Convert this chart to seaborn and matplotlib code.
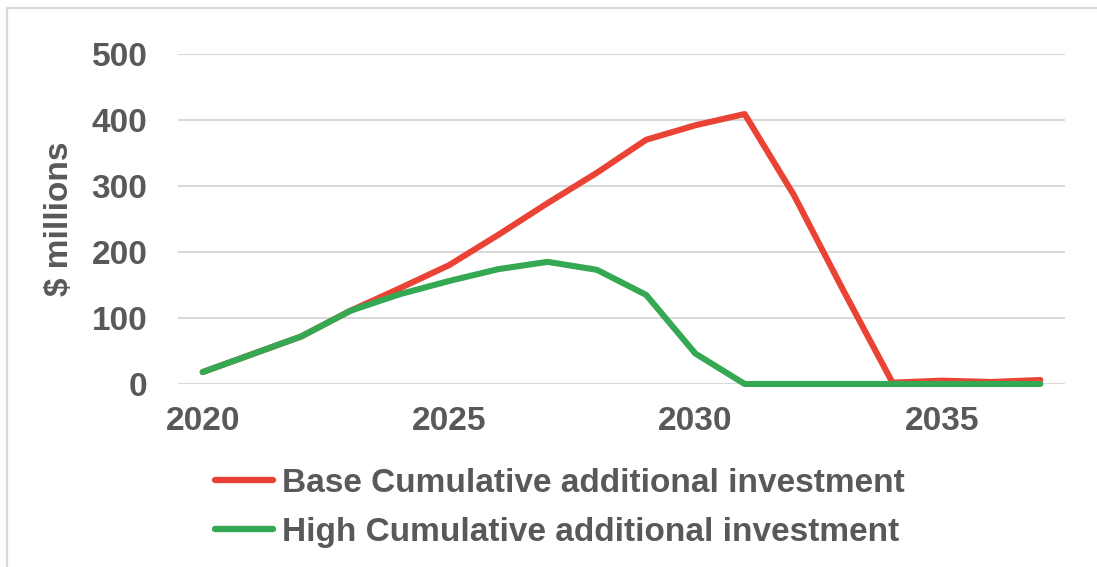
import pandas as pd
import seaborn as sns
import matplotlib.pyplot as plt
from matplotlib.lines import Line2D

years = list(range(2020, 2038))
base = [18, 45, 72, 111, 145, 180, 226, 274, 320, 370, 392, 409, 286, 142, 2, 5, 3, 6]
high = [18, 45, 72, 111, 136, 156, 174, 185, 173, 135, 46, 0, 0, 0, 0, 0, 0, 0]
series_names = ["Base Cumulative additional investment", "High Cumulative additional investment"]
x_ticks = [2020, 2025, 2030, 2035]
y_ticks = [0, 100, 200, 300, 400, 500]

df = pd.DataFrame({
    "Year": years * 2,
    "Value": base + high,
    "Series": [series_names[0]] * len(years) + [series_names[1]] * len(years),
})

sns.set_style("white")
plt.rcParams["font.family"] = ["Liberation Sans", "DejaVu Sans"]
grey = "#595959"
fs = 24

fig = plt.figure(figsize=(10.97, 5.67), dpi=100)
ax = fig.add_axes([0.1623, 0.3228, 0.8085, 0.582])

ax=sns.lineplot(data=df, x="Year", y="Value", hue="Series",
                palette=["#EA4335", "#34A853"], linewidth=4.4, ax=ax,
                legend=False)
for ln in ax.lines:
    ln.set_clip_on(False)
    ln.set_solid_capstyle("round")
    ln.set_zorder(3)

ax.set(xlim=(2019.5, 2037.5), ylim=(0, 500))
ax.set_xticks(x_ticks)
ax.set_yticks(y_ticks)
ax.yaxis.grid(True, color="#d9d9d9", linewidth=1.5)
ax.set_axisbelow(True)
for s in ax.spines.values():
    s.set_visible(False)
ax.tick_params(axis="both", length=0, labelsize=fs, labelcolor=grey)
ax.tick_params(axis="y", pad=22)
ax.tick_params(axis="x", pad=16)
for lab in ax.get_xticklabels() + ax.get_yticklabels():
    lab.set_fontweight("bold")
ax.set_xlabel("")
ax.set_ylabel("$ millions", fontsize=fs, fontweight="bold", color=grey, labelpad=12)

handles = [Line2D([], [], color=c, linewidth=4.6, solid_capstyle="round")
           for c in ["#EA4335", "#34A853"]]
leg = fig.legend(handles, series_names, loc="upper left",
                 bbox_to_anchor=(0.196, 0.175), frameon=False, fontsize=fs,
                 handlelength=1.75, handletextpad=0.25, labelspacing=0.55,
                 borderpad=0, borderaxespad=0)
for t in leg.get_texts():
    t.set_color(grey)
    t.set_fontweight("bold")

fig.add_artist(Line2D([0.0064, 1.0], [0.9859, 0.9859], color="#d9d9d9", linewidth=1.6))
fig.add_artist(Line2D([0.0064, 0.0064], [0.0, 0.9859], color="#d9d9d9", linewidth=1.6))

plt.savefig("out.png", dpi=100)
